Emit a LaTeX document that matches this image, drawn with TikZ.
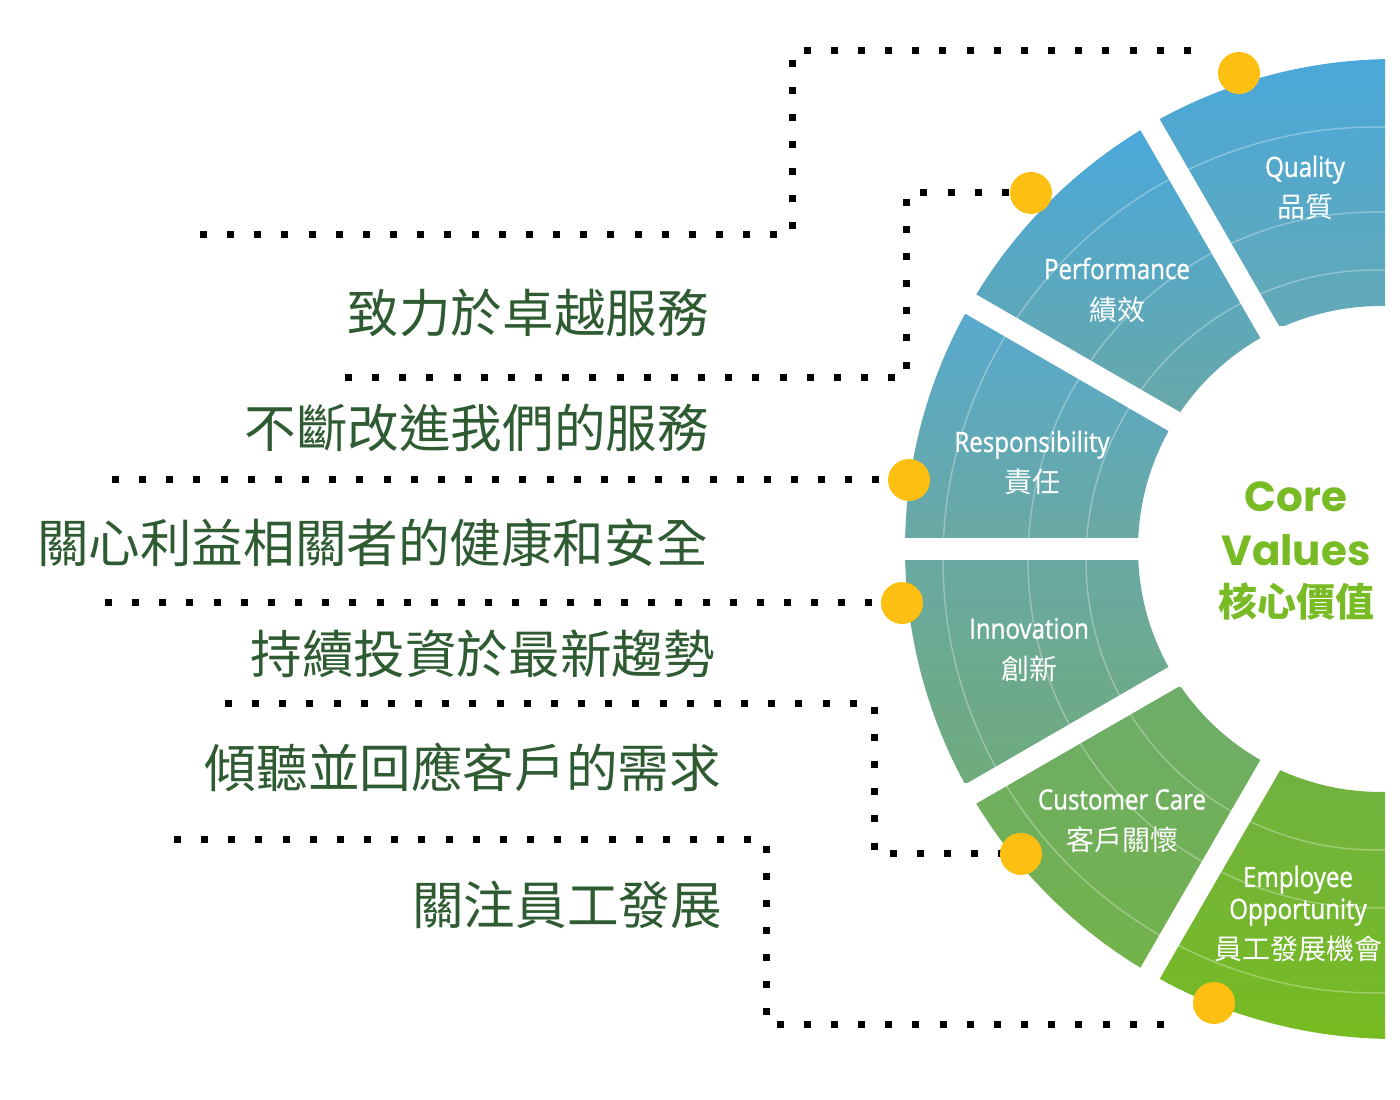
\documentclass[tikz,border=0pt]{standalone}
\usepackage{fontspec}
\setmainfont{Open Sans}
\newfontfamily\cjk{Noto Sans CJK TC}
\newfontfamily\segfont[FakeStretch=0.86,FakeBold=1]{Open Sans}
\newfontfamily\corefont{Poppins}
\usetikzlibrary{positioning,calc}
\pgfdeclarelayer{back}
\pgfsetlayers{back,main}
\definecolor{dotyellow}{HTML}{FDBF12}
\definecolor{aimgreen}{HTML}{2E5B31}
\definecolor{coregreen}{HTML}{78BB25}
\definecolor{qtop}{HTML}{4AA8DA}\definecolor{qbot}{HTML}{64A9B6}
\definecolor{ptop}{HTML}{4AA8DA}\definecolor{pbot}{HTML}{68A8A9}
\definecolor{rtop}{HTML}{58A9CE}\definecolor{rbot}{HTML}{6AA9A3}
\definecolor{itop}{HTML}{69A9A2}\definecolor{ibot}{HTML}{70AB7C}
\definecolor{ctop}{HTML}{6EAD6A}\definecolor{cbot}{HTML}{73B24A}
\definecolor{etop}{HTML}{71B240}\definecolor{ebot}{HTML}{77BB22}

\begin{document}
\begin{tikzpicture}[x=1pt,y=1pt,
  ydot/.style={circle,fill=dotyellow,inner sep=0pt,minimum size=42pt},
  dotline/.style={line width=7pt,dash pattern=on 7pt off 20.16pt},
  gapline/.style={white,line width=22pt},
  aim/.style={anchor=base east,inner sep=0pt,text=aimgreen,font=\cjk\fontsize{51.6}{60}\selectfont},
  seglabel/.style={align=center,text=white,inner sep=0pt,font=\fontsize{28}{32}\selectfont}]
\useasboundingbox (0,0) rectangle (1400,1100);
\coordinate (O) at (1395,551);
\coordinate (I) at (1381,551);
\coordinate (D) at (1376,540);

\begin{scope}
\clip ($(O)+(91.17:490)$) arc[start angle=91.17,end angle=268.83,radius=490]
  -- ($(I)+(270.94:243)$) arc[start angle=270.94,end angle=89.06,radius=243] -- cycle;
\foreach \a/\ya/\yb/\ct/\cb in {90/1041/774/qtop/qbot,120/970/688/ptop/pbot,150/785/560/rtop/rbot,
  180/541/317/itop/ibot,210/412/132/ctop/cbot,240/332/59/etop/ebot}
{
\begin{scope}
\clip (O) -- ($(O)+(\a:700)$) -- ($(O)+({\a+30}:700)$) -- cycle;
\shade[top color=\ct,bottom color=\cb] (880,\yb) rectangle (1400,\ya);
\end{scope}
}
\foreach \r in {290,348,433}
\draw[white,opacity=0.3,line width=1.5pt] (D) circle (\r);
\end{scope}
\foreach \a in {120,150,180,210,240}
\draw[gapline] ($(O)+(\a:235)$) -- ($(O)+(\a:520)$);

\node[ydot] (qdot) at (1239,1027) {};
\node[ydot] (pdot) at (1031,907) {};
\node[ydot] (rdot) at (909,620) {};
\node[ydot] (idot) at (902,497) {};
\node[ydot] (cdot) at (1021,246) {};
\node[ydot] (edot) at (1214,97) {};

\node[seglabel] (quality) at (1305,912) {{\segfont Quality}\\[9pt]{\cjk 品質}};
\node[seglabel] (performance) at (1117,810) {{\segfont Performance}\\[9pt]{\cjk 績效}};
\node[seglabel] (responsibility) at (1032,637) {{\segfont Responsibility}\\[9pt]{\cjk 責任}};
\node[seglabel] (innovation) at (1029,450) {{\segfont Innovation}\\[9pt]{\cjk 創新}};
\node[seglabel] (care) at (1122,279) {{\segfont Customer Care}\\[9pt]{\cjk 客戶關懷}};
\node[seglabel] (employee) at (1298,186) {{\segfont Employee}\\{\segfont Opportunity}\\[9pt]{\cjk 員工發展機會}};

\node[align=center,inner sep=0pt,text=coregreen,font=\corefont\bfseries\fontsize{42}{54}\selectfont] (core) at (1296,549)
  {Core\\Values\\[-3pt]{\cjk\fontsize{39}{50}\selectfont 核心價值}};

\foreach \t/\x/\y/\n in {致力於卓越服務/709/767/aimq,不斷改進我們的服務/709/652/aimp,
  關心利益相關者的健康和安全/708/537/aimr,持續投資於最新趨勢/715/426/aimi,
  傾聽並回應客戶的需求/721/312/aimc,關注員工發展/722/175/aime}
\node[aim] (\n) at (\x,\y) {\t};

\coordinate (qend) at (1191,1049);
\coordinate (eend) at (1168,75);
\coordinate (e1) at (200,865);
\coordinate (e2) at (345,722);
\coordinate (e3) at (112,620);
\coordinate (e4) at (105,497);
\coordinate (e5) at (225,396);
\coordinate (e6) at (174,260);
\begin{pgfonlayer}{back}
\draw[dotline] (e1) -- ++(592,0) |- (qend);
\draw[dotline] (e2) -- ++(561,0) |- (pdot.center);
\draw[dotline] (e3) -- (rdot.center);
\draw[dotline] (e4) -- (idot.center);
\draw[dotline] (e5) -- ++(649,0) |- (cdot.center);
\draw[dotline] (e6) -- ++(592,0) |- (eend);
\end{pgfonlayer}
\end{tikzpicture}
\end{document}
